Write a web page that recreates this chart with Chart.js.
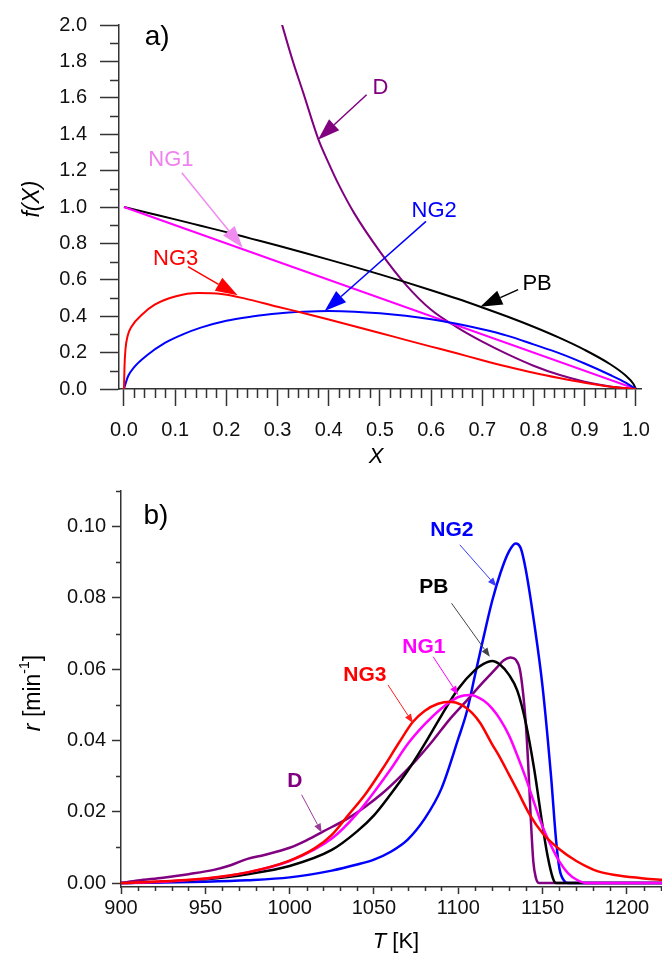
<!DOCTYPE html>
<html>
<head>
<meta charset="utf-8">
<script src="https://cdn.jsdelivr.net/npm/chart.js@4.4.1/dist/chart.umd.min.js"></script>
<style>
  html, body { margin: 0; padding: 0; background: #fff; }
  #wrap { position: relative; width: 662px; height: 954px; overflow: hidden; }
  #chartA { position: absolute; left: 0; top: 0; }
  #chartB { position: absolute; left: 0; top: 470px; }
</style>
</head>
<body>
<div id="wrap">
  <canvas id="chartA" width="662" height="470"></canvas>
  <canvas id="chartB" width="662" height="484"></canvas>
</div>
<script>
// ---- panel a) f(X) vs X ----
var xPB  = [0, 0.05, 0.1, 0.15, 0.2, 0.25, 0.3, 0.35, 0.4, 0.45, 0.5, 0.55, 0.6, 0.65, 0.7, 0.75, 0.8, 0.85, 0.9, 0.95, 0.98, 0.995, 1.0];
var fPB  = [1.0, 0.966, 0.932, 0.897, 0.862, 0.825, 0.788, 0.750, 0.711, 0.671, 0.630, 0.587, 0.543, 0.497, 0.448, 0.397, 0.342, 0.282, 0.215, 0.136, 0.074, 0.029, 0];

var xNG1 = [0, 1.0];
var fNG1 = [1.0, 0];

var xNG2 = [0, 0.008, 0.02, 0.045, 0.08, 0.115, 0.15, 0.2, 0.25, 0.3, 0.35, 0.4, 0.45, 0.5, 0.55, 0.6, 0.65, 0.7, 0.75, 0.8, 0.85, 0.9, 0.95, 0.98, 1.0];
var fNG2 = [0, 0.07, 0.12, 0.185, 0.253, 0.30, 0.337, 0.375, 0.398, 0.415, 0.424, 0.428, 0.425, 0.416, 0.402, 0.383, 0.358, 0.328, 0.292, 0.245, 0.197, 0.14, 0.077, 0.035, 0];

var xNG3 = [0, 0.001, 0.003, 0.007, 0.015, 0.035, 0.06, 0.1, 0.145, 0.19, 0.235, 0.3, 0.35, 0.4, 0.45, 0.5, 0.55, 0.6, 0.65, 0.7, 0.75, 0.8, 0.85, 0.9, 0.95, 1.0];
var fNG3 = [0, 0.12, 0.22, 0.29, 0.344, 0.408, 0.463, 0.508, 0.527, 0.522, 0.498, 0.452, 0.418, 0.382, 0.345, 0.308, 0.27, 0.233, 0.196, 0.158, 0.122, 0.089, 0.06, 0.034, 0.013, 0];

var xD   = [0.300, 0.309, 0.33, 0.35, 0.38, 0.40, 0.42, 0.45, 0.50, 0.55, 0.60, 0.65, 0.70, 0.75, 0.80, 0.85, 0.90, 0.95, 1.0];
var fD   = [2.09, 2.0, 1.80, 1.63, 1.37, 1.24, 1.12, 0.965, 0.755, 0.575, 0.435, 0.34, 0.26, 0.19, 0.128, 0.078, 0.04, 0.014, 0];

var xTicksA = [0, 0.1, 0.2, 0.3, 0.4, 0.5, 0.6, 0.7, 0.8, 0.9, 1.0];
var yTicksA = [0, 0.2, 0.4, 0.6, 0.8, 1.0, 1.2, 1.4, 1.6, 1.8, 2.0];

// ---- panel b) r vs T ----
var tPB  = [900, 925, 950, 975, 1000, 1025, 1040, 1050, 1060, 1070, 1080, 1090, 1100, 1110, 1115, 1120, 1125, 1130, 1135, 1140, 1145, 1150, 1153, 1156, 1158, 1222];
var rPB  = [0, 0.0004, 0.0011, 0.0025, 0.0048, 0.0093, 0.0145, 0.019, 0.025, 0.0315, 0.039, 0.047, 0.0545, 0.0598, 0.0615, 0.0623, 0.0612, 0.0585, 0.054, 0.045, 0.032, 0.016, 0.0075, 0.0015, 0, 0];

var tNG1 = [900, 925, 950, 975, 1000, 1025, 1040, 1050, 1060, 1070, 1080, 1090, 1100, 1107, 1115, 1120, 1125, 1130, 1135, 1140, 1145, 1150, 1155, 1160, 1165, 1170, 1176, 1222];
var rNG1 = [0, 0.0004, 0.0012, 0.003, 0.0062, 0.0125, 0.0195, 0.0255, 0.032, 0.039, 0.0445, 0.049, 0.0522, 0.0528, 0.0512, 0.049, 0.0458, 0.0415, 0.0358, 0.0295, 0.0225, 0.0158, 0.0105, 0.006, 0.0028, 0.001, 0, 0];

var tNG2 = [900, 950, 975, 1000, 1025, 1040, 1050, 1060, 1070, 1080, 1090, 1100, 1105, 1110, 1115, 1120, 1125, 1130, 1134, 1137, 1140, 1145, 1150, 1155, 1158, 1160, 1163, 1165, 1222];
var rNG2 = [0, 0.0004, 0.0008, 0.0016, 0.0035, 0.0052, 0.0066, 0.0088, 0.0122, 0.018, 0.0265, 0.0405, 0.048, 0.0585, 0.069, 0.079, 0.087, 0.093, 0.0953, 0.094, 0.088, 0.073, 0.055, 0.030, 0.012, 0.004, 0.0005, 0, 0];

var tNG3 = [900, 925, 950, 975, 1000, 1015, 1025, 1035, 1045, 1055, 1065, 1073, 1080, 1088, 1095, 1102, 1108, 1113, 1120, 1125, 1130, 1135, 1142, 1150, 1160, 1170, 1180, 1185, 1195, 1210, 1222];
var rNG3 = [0, 0.0005, 0.0013, 0.003, 0.0063, 0.0098, 0.0135, 0.0192, 0.025, 0.032, 0.0395, 0.0452, 0.0483, 0.0503, 0.0509, 0.0500, 0.0478, 0.0449, 0.039, 0.035, 0.0305, 0.026, 0.0195, 0.014, 0.0095, 0.0062, 0.0038, 0.003, 0.0021, 0.0013, 0.0009];

var tD   = [900, 910, 925, 940, 955, 965, 975, 985, 1000, 1010, 1020, 1035, 1045, 1055, 1065, 1075, 1085, 1095, 1105, 1115, 1122, 1127, 1131, 1134, 1136.5, 1138.5, 1140, 1141.5, 1143, 1144.5, 1146, 1148, 1222];
var rD   = [0, 0.0007, 0.0015, 0.0025, 0.0037, 0.005, 0.0068, 0.0079, 0.0099, 0.012, 0.0145, 0.0183, 0.0215, 0.0252, 0.0296, 0.0345, 0.040, 0.046, 0.0512, 0.0565, 0.060, 0.0625, 0.0633, 0.0627, 0.060, 0.053, 0.045, 0.033, 0.018, 0.006, 0.0015, 0, 0];

var xTicksB = [900, 950, 1000, 1050, 1100, 1150, 1200];
var yTicksB = [0, 0.02, 0.04, 0.06, 0.08, 0.10];

function pts(xs, ys) {
    return xs.map(function (x, i) { return { x: x, y: ys[i] }; });
}

// minor tick positions
var xMinorA = [], yMinorA = [], xMinorB = [], yMinorB = [];
for (var i = 1; i < 50; i++) { if (i % 5) xMinorA.push(i / 50); }
for (var i = 0; i < 10; i++) yMinorA.push(0.1 + i * 0.2);
for (var t = 910; t <= 1220; t += 10) { if (t % 50) xMinorB.push(t); }
for (var i = 0; i < 6; i++) yMinorB.push(0.01 + i * 0.02);

var AXIS = '#333';
var FONT = '"Liberation Sans", Arial, sans-serif';

var notesA = [
    { text: 'D',   at: [0.501, 1.655], from: [0.474, 1.617], to: [0.379, 1.37],  color: '#800080', arrow: '#800080' },
    { text: 'NG1', at: [0.0916, 1.26], from: [0.113, 1.188], to: [0.232, 0.776], color: '#ee82ee', arrow: '#f08cf0' },
    { text: 'NG3', at: [0.101, 0.716], from: [0.125, 0.672], to: [0.222, 0.515], color: '#ff0000', arrow: '#ff0000' },
    { text: 'NG2', at: [0.606, 0.98],  from: [0.59, 0.921],  to: [0.392, 0.428], color: '#0000ff', arrow: '#0000ff' },
    { text: 'PB',  at: [0.807, 0.579], from: [0.77, 0.546],  to: [0.696, 0.452], color: '#000000', arrow: '#000000' }
];
var notesB = [
    { text: 'NG2', at: [1096.2, 0.0991], from: [1100.9, 0.0949], to: [1122.7, 0.0832], color: '#0000ff', arrow: '#3a3aff' },
    { text: 'PB',  at: [1085.5, 0.0831], from: [1096.0, 0.0785], to: [1118.7, 0.0635], color: '#000000', arrow: '#444444' },
    { text: 'NG1', at: [1079.6, 0.0663], from: [1085.1, 0.0635], to: [1099.9, 0.0528], color: '#ff00ff', arrow: '#ff00ff' },
    { text: 'NG3', at: [1044.6, 0.0584], from: [1058.3, 0.0556], to: [1073.1, 0.0449], color: '#ff0000', arrow: '#ff2020' },
    { text: 'D',   at: [1003.1, 0.0285], from: [1007.1, 0.0248], to: [1019.0, 0.0142], color: '#800080', arrow: '#9a3a9a' }
];

function drawArrow(ctx, x1, y1, x2, y2, color, lw, headLen, headW) {
    var ang = Math.atan2(y2 - y1, x2 - x1);
    var bx = x2 - headLen * Math.cos(ang), by = y2 - headLen * Math.sin(ang);
    ctx.save();
    ctx.strokeStyle = color;
    ctx.fillStyle = color;
    ctx.lineWidth = lw;
    ctx.beginPath();
    ctx.moveTo(x1, y1);
    ctx.lineTo(bx, by);
    ctx.stroke();
    ctx.beginPath();
    ctx.moveTo(x2, y2);
    ctx.lineTo(bx + headW * Math.sin(ang), by - headW * Math.cos(ang));
    ctx.lineTo(bx - headW * Math.sin(ang), by + headW * Math.cos(ang));
    ctx.closePath();
    ctx.fill();
    ctx.restore();
}

// minor ticks + annotations + axis titles
var extras = {
    id: 'extras',
    afterDatasetsDraw: function (chart, args, o) {
        var ctx = chart.ctx, xs = chart.scales.x, ys = chart.scales.y, a = chart.chartArea;
        ctx.save();
        ctx.strokeStyle = AXIS;
        ctx.lineWidth = 1.5;
        ctx.beginPath();
        o.xMinor.forEach(function (v) {
            var p = Math.round(xs.getPixelForValue(v)) + 0.5;
            ctx.moveTo(p, a.bottom);
            ctx.lineTo(p, a.bottom + o.xMinorLen);
        });
        o.yMinor.forEach(function (v) {
            var p = Math.round(ys.getPixelForValue(v)) + 0.5;
            ctx.moveTo(a.left, p);
            ctx.lineTo(a.left - o.yMinorLen, p);
        });
        ctx.stroke();

        ctx.textAlign = 'center';
        ctx.textBaseline = 'middle';
        o.notes.forEach(function (n) {
            drawArrow(ctx, xs.getPixelForValue(n.from[0]), ys.getPixelForValue(n.from[1]),
                xs.getPixelForValue(n.to[0]), ys.getPixelForValue(n.to[1]),
                n.arrow, o.arrowWidth, o.headLen, o.headW);
            ctx.fillStyle = n.color;
            ctx.font = o.noteFont;
            ctx.fillText(n.text, xs.getPixelForValue(n.at[0]), ys.getPixelForValue(n.at[1]));
        });

        ctx.fillStyle = '#000';
        ctx.font = '28px ' + FONT;
        ctx.fillText(o.panel, xs.getPixelForValue(o.panelAt[0]), ys.getPixelForValue(o.panelAt[1]));
        o.titles(ctx);
        ctx.restore();
    }
};

function scaleOpts(min, max, majors, fmt, pad, tickLen, size, isX) {
    return {
        type: 'linear',
        min: min,
        max: max,
        afterBuildTicks: function (s) { s.ticks = majors.map(function (v) { return { value: v }; }); },
        afterFit: function (s) { if (isX) s.height = size; else s.width = size; },
        ticks: {
            callback: fmt,
            autoSkip: false,
            maxRotation: 0,
            padding: pad,
            color: '#111',
            font: { family: FONT, size: 20 }
        },
        grid: { drawOnChartArea: false, tickLength: tickLen, tickWidth: 1.5, tickColor: AXIS },
        border: { color: AXIS, width: 1.5 }
    };
}

function line(data, color, width) {
    return {
        data: data,
        borderColor: color,
        borderWidth: width,
        pointRadius: 0,
        fill: false,
        cubicInterpolationMode: 'monotone'
    };
}

Chart.defaults.font.family = FONT;

// Panel a)
var chartA = new Chart(document.getElementById('chartA').getContext('2d'), {
    type: 'line',
    data: {
        datasets: [
            line(pts(xNG3, fNG3), '#ff0000', 2),
            line(pts(xNG2, fNG2), '#0000ff', 2),
            line(pts(xNG1, fNG1), '#ff00ff', 2),
            line(pts(xPB, fPB), '#000000', 2),
            line(pts(xD, fD), '#800080', 2)
        ]
    },
    options: {
        responsive: false,
        animation: false,
        layout: { padding: { left: 0, right: 19, top: 25, bottom: 0 } },
        plugins: {
            legend: { display: false },
            tooltip: { enabled: false },
            extras: {
                xMinor: xMinorA, yMinor: yMinorA, xMinorLen: 9, yMinorLen: 9,
                notes: notesA, noteFont: '22px ' + FONT, arrowWidth: 1.5, headLen: 22, headW: 7.5,
                panel: 'a)', panelAt: [0.065, 1.93],
                titles: function (ctx) {
                    ctx.fillStyle = '#000';
                    ctx.font = 'italic 23px ' + FONT;
                    ctx.save();
                    ctx.translate(33, 199);
                    ctx.rotate(-Math.PI / 2);
                    ctx.fillText('f(X)', 0, 0);
                    ctx.restore();
                    ctx.font = 'italic 22px ' + FONT;
                    ctx.fillText('X', 376, 457);
                }
            }
        },
        scales: {
            x: scaleOpts(-0.0097, 1.0117, xTicksA, function (v) { return v.toFixed(1); }, 12, 17, 81, true),
            y: scaleOpts(0, 2.0, yTicksA, function (v) { return v.toFixed(1); }, 13, 19, 119, false)
        }
    },
    plugins: [extras]
});

// Panel b)
var chartB = new Chart(document.getElementById('chartB').getContext('2d'), {
    type: 'line',
    data: {
        datasets: [
            line(pts(tNG3, rNG3), '#ff0000', 2.5),
            line(pts(tNG1, rNG1), '#ff00ff', 2.5),
            line(pts(tPB, rPB), '#000000', 2.5),
            line(pts(tD, rD), '#800080', 2.5),
            line(pts(tNG2, rNG2), '#0000ff', 2.5)
        ]
    },
    options: {
        responsive: false,
        animation: false,
        layout: { padding: { left: 0, right: 0, top: 21, bottom: 0 } },
        plugins: {
            legend: { display: false },
            tooltip: { enabled: false },
            extras: {
                xMinor: xMinorB, yMinor: yMinorB, xMinorLen: 4, yMinorLen: 5,
                notes: notesB, noteFont: 'bold 21px ' + FONT, arrowWidth: 1, headLen: 9, headW: 3.5,
                panel: 'b)', panelAt: [920.7, 0.103],
                titles: function (ctx) {
                    ctx.fillStyle = '#000';
                    // r [min^-1], rotated
                    ctx.save();
                    ctx.translate(34, 223);
                    ctx.rotate(-Math.PI / 2);
                    ctx.textAlign = 'left';
                    var f1 = 'italic 23px ' + FONT, f2 = '23px ' + FONT, f3 = '14px ' + FONT;
                    ctx.font = f1; var w1 = ctx.measureText('r ').width;
                    ctx.font = f2; var w2 = ctx.measureText('[min').width;
                    ctx.font = f3; var w3 = ctx.measureText('-1').width;
                    ctx.font = f2; var w4 = ctx.measureText(']').width;
                    var x0 = -(w1 + w2 + w3 + w4) / 2;
                    ctx.font = f1; ctx.fillText('r ', x0, 0);
                    ctx.font = f2; ctx.fillText('[min', x0 + w1, 0);
                    ctx.font = f3; ctx.fillText('-1', x0 + w1 + w2, -9);
                    ctx.font = f2; ctx.fillText(']', x0 + w1 + w2 + w3, 0);
                    ctx.restore();
                    // T [K]
                    ctx.textAlign = 'left';
                    ctx.font = 'italic 22px ' + FONT;
                    var wt = ctx.measureText('T').width;
                    ctx.font = '22px ' + FONT;
                    var wk = ctx.measureText(' [K]').width;
                    var xs0 = 396 - (wt + wk) / 2;
                    ctx.font = 'italic 22px ' + FONT;
                    ctx.fillText('T', xs0, 472);
                    ctx.font = '22px ' + FONT;
                    ctx.fillText(' [K]', xs0 + wt, 472);
                }
            }
        },
        scales: {
            x: scaleOpts(900, 1220.8, xTicksB, function (v) { return String(v); }, 2, 7, 67, true),
            y: scaleOpts(-0.0011, 0.110, yTicksB, function (v) { return v.toFixed(2); }, 6, 9, 121, false)
        }
    },
    plugins: [extras]
});
</script>
</body>
</html>
